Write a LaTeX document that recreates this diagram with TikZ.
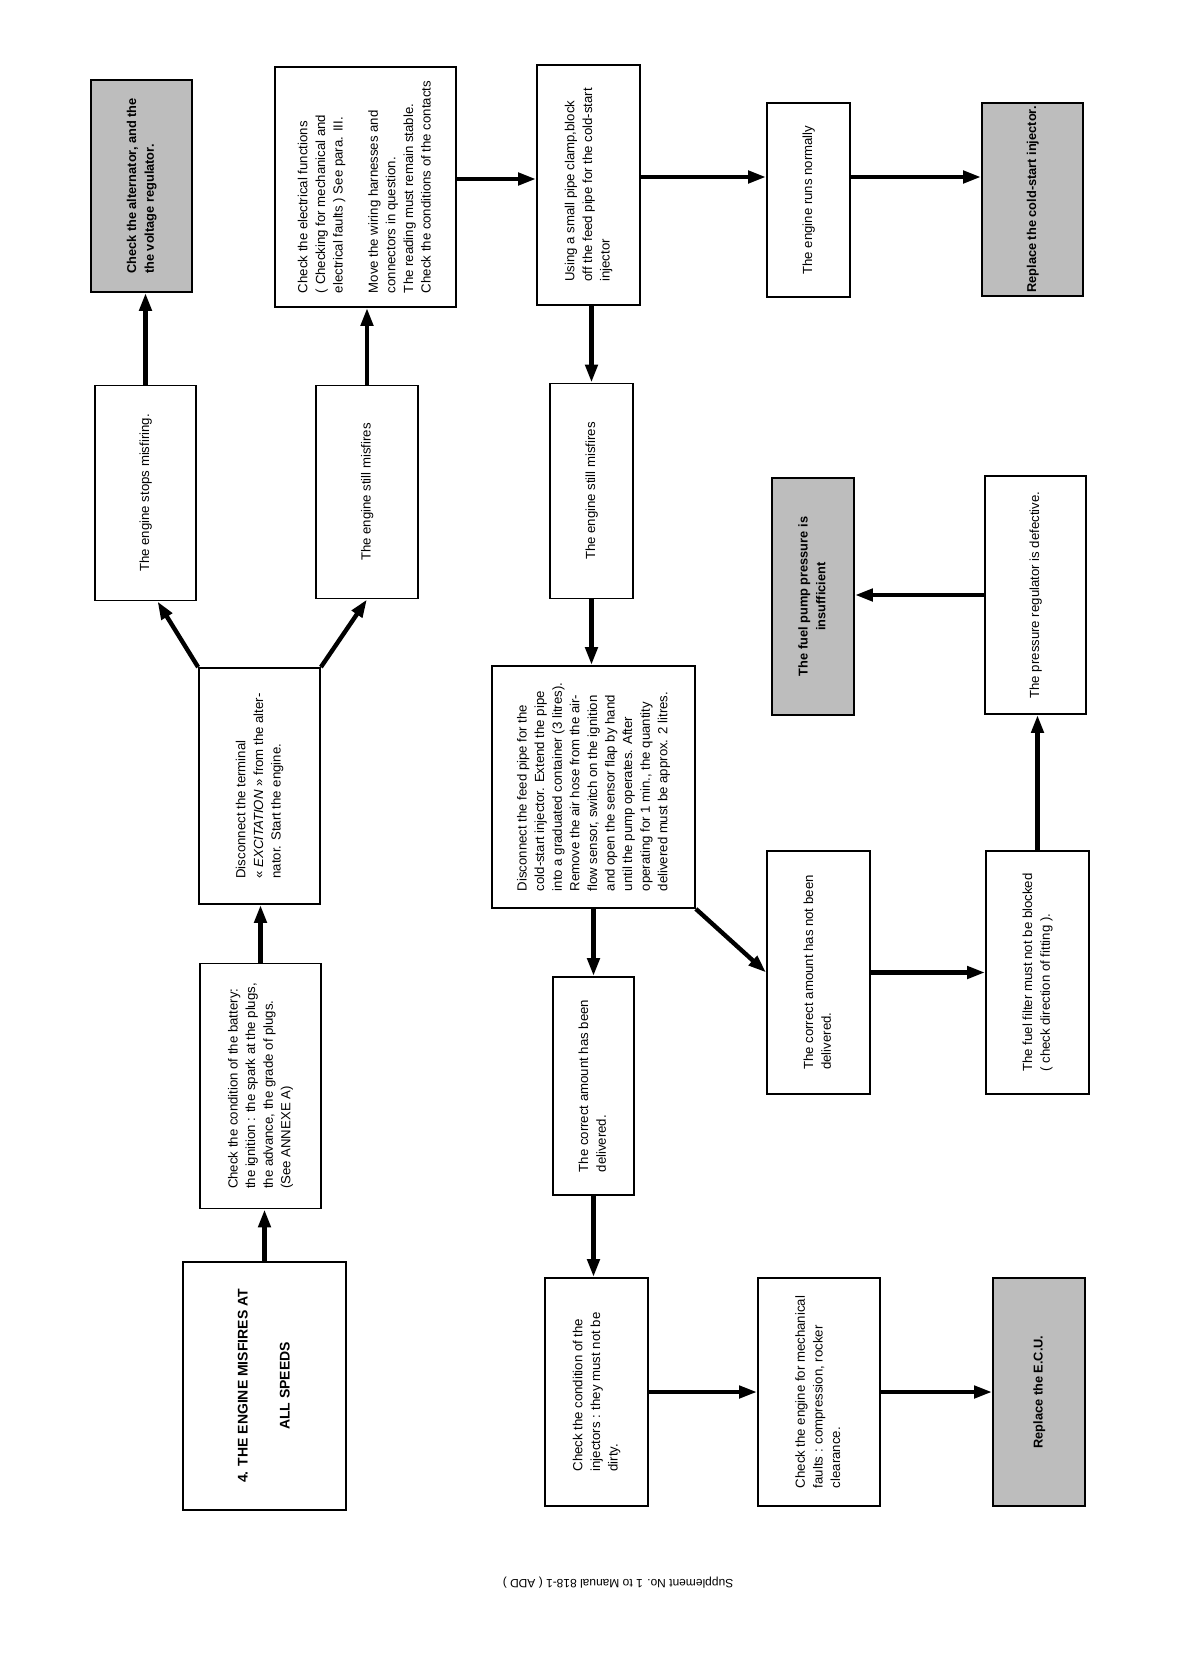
\documentclass[tikz,border=0pt]{standalone}
\usepackage{fontspec}
\setmainfont{Liberation Sans}
\usepackage{graphicx}
\usetikzlibrary{positioning,calc,arrows.meta}
\tikzset{>={Triangle[length=9pt,width=6pt]}}
\definecolor{shade}{gray}{0.74}
\newcommand*{\vtext}[1]{\rotatebox{90}{\begin{tabular}{@{}l@{}}#1\end{tabular}}}
\newcommand*{\vtextc}[1]{\rotatebox{90}{\begin{tabular}{@{}c@{}}#1\end{tabular}}}
\tikzset{
  box/.style={draw,line width=.9pt,fill=white,inner sep=0pt,
    font=\fontsize{6.6}{8.8}\selectfont},
  shadebox/.style={box,fill=shade,font=\bfseries\fontsize{6.4}{8.8}\selectfont},
  boxsize/.style 2 args={minimum width=#1*.5pt,minimum height=#2*.5pt},
  flow/.style={->,line width=2.2pt}
}

\begin{document}
\begin{tikzpicture}[x=.5pt,y=-.5pt]
\useasboundingbox (0,0) rectangle (1192,1678);

% Left column: first checks
\node[box,boxsize={163}{248},font=\bfseries\fontsize{7}{10.5}\selectfont]
  (start) at (264.5,1386) {\vtextc{4. THE ENGINE MISFIRES AT\\ \\ALL SPEEDS}};
\node[box,boxsize={121}{245}] (battery) at (260.5,1086)
  {\vtext{Check the condition of the battery:\\the ignition : the spark at the plugs,\\the advance, the grade of plugs.\\(See ANNEXE A)}};
\node[box,boxsize={121}{236}] (excit) at (259.5,786)
  {\vtext{Disconnect the terminal\\« \textit{EXCITATION} » from the alter-\\nator. Start the engine.}};
\node[box,boxsize={101}{215}] (stops) at (145.5,493)
  {\vtext{The engine stops misfiring.}};
\node[shadebox,boxsize={101}{212}] (alternator) at (141.5,186)
  {\vtext{Check the alternator, and the\\the voltage regulator.}};
\node[box,boxsize={102}{213}] (still1) at (367,492)
  {\vtext{The engine still misfires}};
\node[box,boxsize={181}{240}] (elec) at (365.5,187)
  {\vtext{Check the electrical functions\\( Checking for mechanical and\\electrical faults ) See para. III.\\ \\Move the wiring harnesses and\\connectors in question.\\The reading must remain stable.\\Check the conditions of the contacts}};

% Middle column: cold-start injector
\node[box,boxsize={103}{240}] (pipe) at (588.5,185)
  {\vtext{Using a small pipe clamp,block\\off the feed pipe for the cold-start\\injector}};
\node[box,boxsize={83}{194}] (normal) at (808.5,200)
  {\vtext{The engine runs normally}};
\node[shadebox,boxsize={101}{193}] (coldstart) at (1032.5,199.5)
  {\vtext{Replace the cold-start injector.}};
\node[box,boxsize={83}{215}] (still2) at (591.5,491)
  {\vtext{The engine still misfires}};
\node[box,boxsize={203}{242}] (disc) at (593.5,787)
  {\vtext{Disconnect the feed pipe for the\\cold-start injector. Extend the pipe\\into a graduated container (3 litres).\\Remove the air hose from the air-\\flow sensor, switch on the ignition\\and open the sensor flap by hand\\until the pump operates. After\\operating for 1 min., the quantity\\delivered must be approx. 2 litres.}};

% Fuel delivery branch
\node[shadebox,boxsize={82}{237}] (pump) at (813,596.5)
  {\vtextc{The fuel pump pressure is\\insufficient}};
\node[box,boxsize={101}{238}] (regulator) at (1035.5,595)
  {\vtext{The pressure regulator is defective.}};
\node[box,boxsize={103}{243}] (notdeliv) at (818.5,972.5)
  {\vtext{The correct amount has not been\\delivered.}};
\node[box,boxsize={103}{243}] (filter) at (1037.5,972.5)
  {\vtext{The fuel filter must not be blocked\\( check direction of fitting ).}};
\node[box,boxsize={81}{218}] (deliv) at (593.5,1086)
  {\vtext{The correct amount has been\\delivered.}};

% Bottom row
\node[box,boxsize={103}{228}] (inj) at (596.5,1392)
  {\vtext{Check the condition of the\\injectors : they must not be\\dirty.}};
\node[box,boxsize={122}{228}] (mech) at (819,1392)
  {\vtext{Check the engine for mechanical\\faults : compression, rocker\\clearance.}};
\node[shadebox,boxsize={92}{228}] (ecu) at (1039,1392)
  {\vtext{Replace the E.C.U.}};

\node[rotate=180,font=\fontsize{6}{7}\selectfont] (footer) at (618,1583)
  {Supplement No. 1 to Manual 818-1 ( ADD )};

% Draw the arrows
\draw[flow] (start.north) -- (start.north |- battery.south);
\draw[flow] (battery.north) -- (battery.north |- excit.south);
\draw[flow] (excit.north west) -- ([xshift=6pt]stops.south);
\draw[flow] (excit.north east) -- (still1.south);
\draw[flow] (stops.north) -- (stops.north |- alternator.south);
\draw[flow] (still1.north) -- (still1.north |- elec.south);
\draw[flow] ([yshift=4pt]elec.east) -- ([yshift=4pt]elec.east -| pipe.west);
\draw[flow] ([yshift=4pt]pipe.east) -- ([yshift=4pt]pipe.east -| normal.west);
\draw[flow] ([yshift=4pt]pipe.east -| normal.east) -- ([yshift=4pt]pipe.east -| coldstart.west);
\draw[flow] (still2 |- pipe.south) -- (still2.north);
\draw[flow] (still2.south) -- (still2.south |- disc.north);
\draw[flow] (deliv |- disc.south) -- (deliv.north);
\draw[flow] (disc.south east) -- (notdeliv.west);
\draw[flow] (notdeliv.east) -- (notdeliv.east -| filter.west);
\draw[flow] (filter.north) -- (filter.north |- regulator.south);
\draw[flow] (regulator.west) -- (regulator.west -| pump.east);
\draw[flow] (deliv.south) -- (deliv.south |- inj.north);
\draw[flow] (inj.east) -- (inj.east -| mech.west);
\draw[flow] (mech.east) -- (mech.east -| ecu.west);
\end{tikzpicture}
\end{document}
